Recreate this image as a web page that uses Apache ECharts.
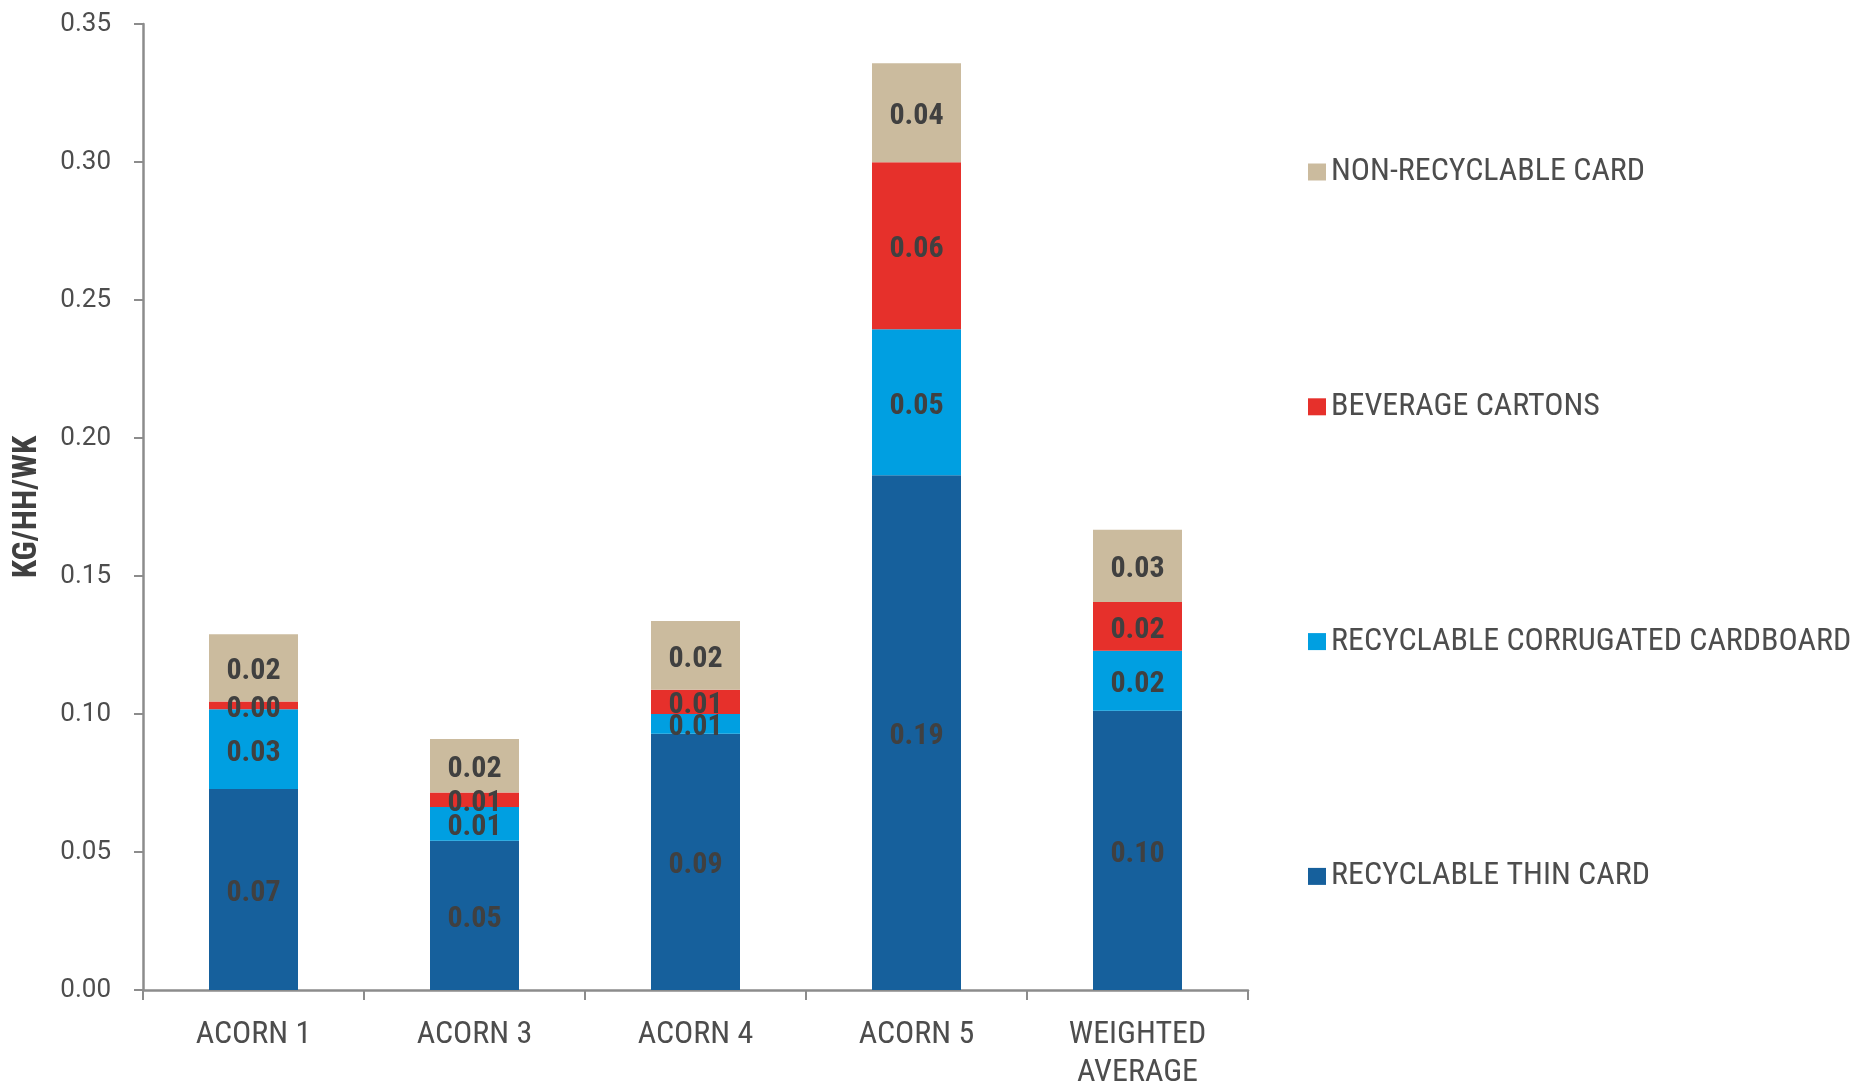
<!DOCTYPE html>
<html>
<head>
<meta charset="utf-8">
<script src="https://cdn.jsdelivr.net/npm/echarts@6/dist/echarts.min.js"></script>
<style>
  html, body { margin: 0; padding: 0; background: #fff; }
  #chart { width: 1872px; height: 1088px; }
</style>
</head>
<body>
<div id="chart"></div>
<script>
var categories = ['ACORN 1', 'ACORN 3', 'ACORN 4', 'ACORN 5', 'WEIGHTED\nAVERAGE'];
var thinCard = [0.0728, 0.0541, 0.0928, 0.1865, 0.1012];
var corrugated = [0.0289, 0.0122, 0.0072, 0.0529, 0.0217];
var cartons = [0.0028, 0.0053, 0.0088, 0.0605, 0.0177];
var nonRecyclable = [0.0244, 0.0193, 0.0249, 0.0359, 0.0262];
var yTicks = { min: 0, max: 0.35, interval: 0.05 };

var fontName = "'Roboto Condensed', 'Liberation Sans Narrow', Roboto, sans-serif";
var textColor = '#4d4d4d';
var axisColor = '#8c8c8c';

var chart = echarts.init(document.getElementById('chart'));

// shared label / bar setup for every stacked segment
function makeSeries(name, data, color) {
	return {
		name: name,
		type: 'bar',
		stack: 'total',
		barWidth: 89,
		data: data,
		itemStyle: {
			color: color
		},
		label: {
			show: true,
			position: 'inside',
			offset: [0, 4],
			color: '#404040',
			fontFamily: fontName,
			fontWeight: 'bold',
			fontSize: 30,
			formatter: function (p) {
				return p.value.toFixed(2);
			}
		},
		emphasis: { disabled: true }
	};
}

var option = {
	animation: false,
	backgroundColor: '#fff',
	textStyle: { fontFamily: fontName },
	grid: {
		left: 143,
		right: 624,
		top: 24,
		bottom: 98,
		outerBoundsMode: 'none'
	},
	legend: {
		orient: 'vertical',
		left: 1303,
		top: 151,
		itemWidth: 18,
		itemHeight: 17,
		itemGap: 202.8,
		icon: 'rect',
		data: ['NON-RECYCLABLE CARD', 'BEVERAGE CARTONS', 'RECYCLABLE CORRUGATED CARDBOARD', 'RECYCLABLE THIN CARD'],
		textStyle: {
			color: textColor,
			fontFamily: fontName,
			fontSize: 32
		},
		selectedMode: false
	},
	xAxis: {
		type: 'category',
		data: categories,
		axisLine: {
			lineStyle: { color: axisColor, width: 2.5 }
		},
		axisTick: {
			show: true,
			length: 10,
			lineStyle: { color: axisColor, width: 2 }
		},
		axisLabel: {
			color: textColor,
			fontFamily: fontName,
			fontSize: 32,
			lineHeight: 38,
			margin: 26
		}
	},
	yAxis: {
		type: 'value',
		min: yTicks.min,
		max: yTicks.max,
		interval: yTicks.interval,
		name: 'KG/HH/WK',
		nameLocation: 'middle',
		nameGap: 99,
		nameTextStyle: {
			color: '#404040',
			fontFamily: fontName,
			fontWeight: 'bold',
			fontSize: 33
		},
		splitLine: { show: false },
		axisLine: {
			show: true,
			lineStyle: { color: axisColor, width: 2.5 }
		},
		axisTick: {
			show: true,
			length: 9,
			lineStyle: { color: axisColor, width: 2 }
		},
		axisLabel: {
			color: textColor,
			fontFamily: 'Roboto, sans-serif',
			fontSize: 26,
			margin: 32,
			formatter: function (v) {
				return v.toFixed(2);
			}
		}
	},
	series: [
		makeSeries('RECYCLABLE THIN CARD', thinCard, '#16609C'),
		makeSeries('RECYCLABLE CORRUGATED CARDBOARD', corrugated, '#009FE1'),
		makeSeries('BEVERAGE CARTONS', cartons, '#E6302B'),
		makeSeries('NON-RECYCLABLE CARD', nonRecyclable, '#CBBB9E')
	]
};
chart.setOption(option);
</script>
</body>
</html>
